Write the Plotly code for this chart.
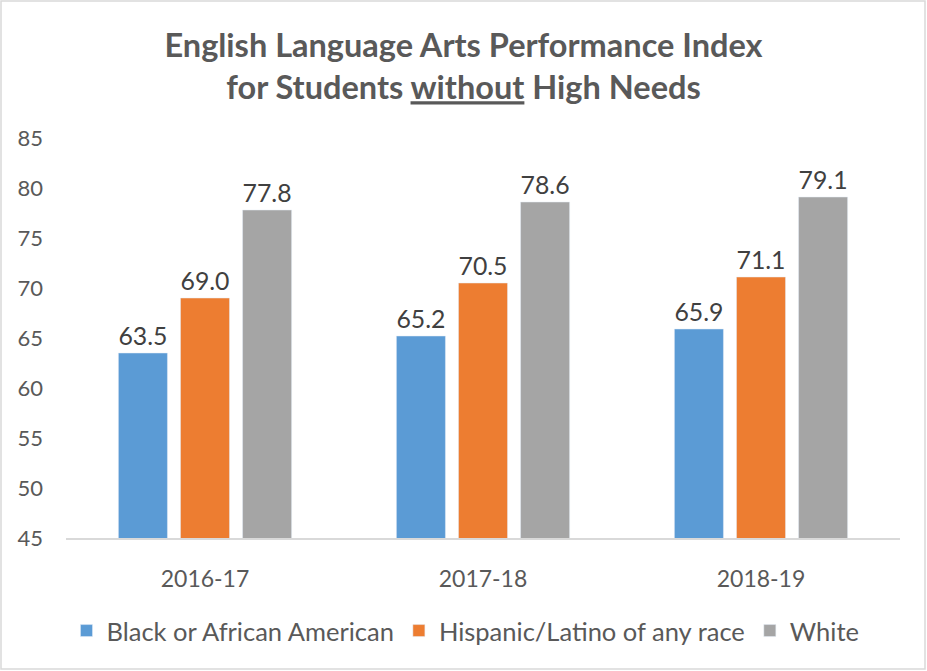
import plotly.graph_objects as go

years = ["2016-17", "2017-18", "2018-19"]
black = [63.5, 65.2, 65.9]
hispanic = [69.0, 70.5, 71.1]
white = [77.8, 78.6, 79.1]
series_names = ["Black or African American", "Hispanic/Latino of any race", "White"]
colors = ["#5B9BD5", "#ED7D31", "#A5A5A5"]

FONT = "Lato, Open Sans, sans-serif"

fig = go.Figure()
for name, vals, col in zip(series_names, [black, hispanic, white], colors):
    fig.add_trace(go.Bar(
        x=years, y=vals, name=name, marker_color=col,
        text=[f"{v:.1f}" for v in vals], textposition="outside",
        textfont=dict(size=25, color="#404040", family=FONT),
        cliponaxis=False,
    ))

W, H = 927, 671
l, r, t, b = 66, 27, 138, 133
pw, ph = W - l - r, H - t - b

fig.update_layout(
    width=W, height=H,
    margin=dict(l=l, r=r, t=t, b=b),
    paper_bgcolor="white", plot_bgcolor="white",
    barmode="group", bargap=0.33, bargroupgap=0.21,
    title=dict(
        text="<b>English Language Arts Performance Index<br>for Students <u>without</u> High Needs</b>",
        x=0.5, xanchor="center", y=1 - 57 / H, yanchor="middle",
        font=dict(size=32.5, color="#595959", family=FONT),
    ),
    font=dict(family=FONT, color="#595959"),
    xaxis=dict(
        showgrid=False, showline=True, linecolor="#D9D9D9", linewidth=1.5,
        tickfont=dict(size=23, color="#595959"), ticks="", ticklabelstandoff=20,
    ),
    yaxis=dict(
        range=[45, 85], dtick=5, showgrid=False, showline=False, zeroline=False,
        tickfont=dict(size=22, color="#595959"), ticks="", ticklabelstandoff=22,
    ),
    legend=dict(
        orientation="h", x=0.479, xanchor="center", y=(538 - 631) / ph, yanchor="middle",
        font=dict(size=25.5, color="#595959"), itemwidth=30,
    ),
    showlegend=True,
    shapes=[dict(
        type="rect", xref="paper", yref="paper",
        x0=(1 - l) / pw, x1=(W - 2 - l) / pw,
        y0=(538 - (H - 2)) / ph, y1=(538 - 1) / ph,
        line=dict(color="#D9D9D9", width=1.5), fillcolor="rgba(0,0,0,0)", layer="below",
    )],
)

fig.write_html("out.html")
